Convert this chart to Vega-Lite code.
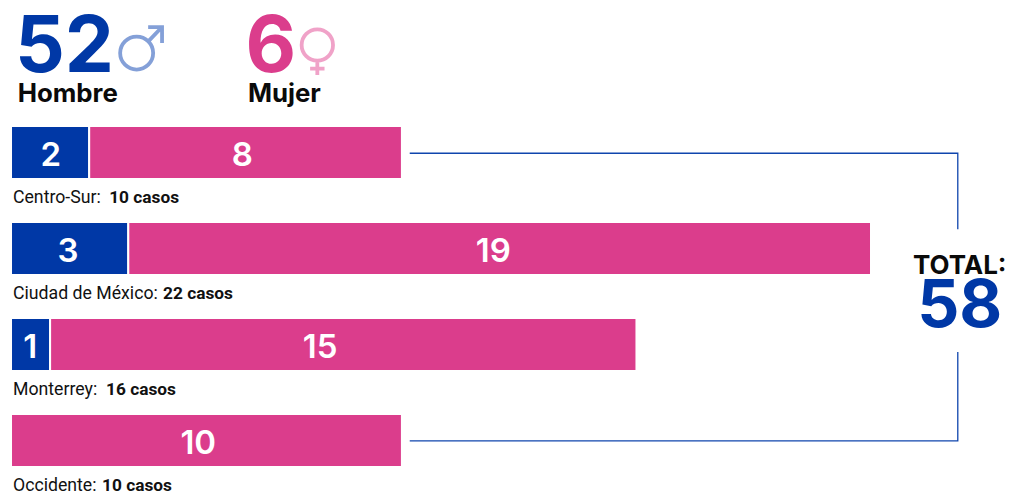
{
"$schema":"https://vega.github.io/schema/vega-lite/v6.json",
"width":1009,"height":492,"padding":0,
"autosize":"none",
"background":"white",
"config":{"view":{"stroke":null}},
"datasets":{
"casos":[
{"region":"Centro-Sur","fila":0,"sexo":"Hombre","casos":2,"inicio":0,"fin":2,"pos":1.02},
{"region":"Centro-Sur","fila":0,"sexo":"Mujer","casos":8,"inicio":2,"fin":10,"pos":5.92},
{"region":"Ciudad de México","fila":1,"sexo":"Hombre","casos":3,"inicio":0,"fin":3,"pos":1.46},
{"region":"Ciudad de México","fila":1,"sexo":"Mujer","casos":19,"inicio":3,"fin":22,"pos":12.34},
{"region":"Monterrey","fila":2,"sexo":"Hombre","casos":1,"inicio":0,"fin":1,"pos":0.49},
{"region":"Monterrey","fila":2,"sexo":"Mujer","casos":15,"inicio":1,"fin":16,"pos":7.91},
{"region":"Occidente","fila":3,"sexo":"Mujer","casos":10,"inicio":0,"fin":10,"pos":4.79}],
"regiones":[
{"nombre":"Centro-Sur:","total":"10 casos","fila":0,"pos":0.05,"posTotal":2.51},
{"nombre":"Ciudad de México:","total":"22 casos","fila":1,"pos":0.05,"posTotal":3.89},
{"nombre":"Monterrey:","total":"16 casos","fila":2,"pos":0.05,"posTotal":2.43},
{"nombre":"Occidente:","total":"10 casos","fila":3,"pos":0.05,"posTotal":2.33}],
"conector":[
{"tramo":"a","paso":1,"x":10.2,"fila":0.008},
{"tramo":"a","paso":2,"x":24.22,"fila":0.008},
{"tramo":"a","paso":3,"x":24.22,"fila":0.80},
{"tramo":"b","paso":1,"x":24.22,"fila":2.078},
{"tramo":"b","paso":2,"x":24.22,"fila":3.003},
{"tramo":"b","paso":3,"x":10.2,"fila":3.003}],
"sexos":[
{"sexo":"Hombre","total":52,"posNum":0.1,"posTxt":0.17,"posSim":3.214,"filaSim":-1.036},
{"sexo":"Mujer","total":6,"posNum":6.0,"posTxt":6.06,"posSim":7.836,"filaSim":-1.12}]
},
"resolve":{"scale":{"y":"independent"}},
"layer":[
{"data":{"name":"casos"},
 "mark":{"type":"bar","stroke":"white","strokeWidth":2},
 "encoding":{
  "x":{"field":"inicio","type":"quantitative","scale":{"domain":[-0.2817,25.53],"nice":false,"zero":false},"axis":null},
  "x2":{"field":"fin"},
  "y":{"field":"region","type":"nominal","sort":null,"axis":null,"scale":{"type":"band","paddingInner":0.448,"paddingOuter":0.786,"align":0.834}},
  "color":{"field":"sexo","type":"nominal","legend":null,"scale":{"domain":["Hombre","Mujer"],"range":["#0038a6","#db3d8c"]}}}},
{"data":{"name":"casos"},
 "mark":{"type":"text","font":"Inter","fontWeight":600,"fontSize":33,"color":"white","baseline":"middle","dy":4},
 "encoding":{
  "x":{"field":"pos","type":"quantitative","scale":{"domain":[-0.2817,25.53],"nice":false,"zero":false},"axis":null},
  "y":{"field":"fila","type":"quantitative","axis":null,"scale":{"domain":[3.5365,-1.5885],"nice":false,"zero":false}},
  "text":{"field":"casos"}}},
{"data":{"name":"regiones"},
 "mark":{"type":"text","font":"Roboto","fontSize":17.7,"color":"#111111","align":"left","baseline":"middle","dy":45.5},
 "encoding":{
  "x":{"field":"pos","type":"quantitative","scale":{"domain":[-0.2817,25.53],"nice":false,"zero":false},"axis":null},
  "y":{"field":"fila","type":"quantitative","axis":null,"scale":{"domain":[3.5365,-1.5885],"nice":false,"zero":false}},
  "text":{"field":"nombre"}}},
{"data":{"name":"regiones"},
 "mark":{"type":"text","font":"Roboto","fontWeight":"bold","fontSize":17.3,"color":"#111111","align":"left","baseline":"middle","dy":45.5},
 "encoding":{
  "x":{"field":"posTotal","type":"quantitative","scale":{"domain":[-0.2817,25.53],"nice":false,"zero":false},"axis":null},
  "y":{"field":"fila","type":"quantitative","axis":null,"scale":{"domain":[3.5365,-1.5885],"nice":false,"zero":false}},
  "text":{"field":"total"}}},
{"data":{"name":"conector"},
 "mark":{"type":"line","color":"#0f45ad","strokeWidth":1.3,"interpolate":"linear"},
 "encoding":{
  "x":{"field":"x","type":"quantitative","scale":{"domain":[-0.2817,25.53],"nice":false,"zero":false},"axis":null},
  "y":{"field":"fila","type":"quantitative","axis":null,"scale":{"domain":[3.5365,-1.5885],"nice":false,"zero":false}},
  "detail":{"field":"tramo"},
  "order":{"field":"paso","type":"quantitative"}}},
{"data":{"name":"sexos"},
 "mark":{"type":"text","font":"Inter","fontWeight":700,"fontSize":78,"align":"left","baseline":"alphabetic","dy":-80.5},
 "encoding":{
  "x":{"field":"posNum","type":"quantitative","scale":{"domain":[-0.2817,25.53],"nice":false,"zero":false},"axis":null},
  "y":{"datum":0,"type":"quantitative","axis":null,"scale":{"domain":[3.5365,-1.5885],"nice":false,"zero":false}},
  "color":{"field":"sexo","type":"nominal","legend":null,"scale":{"domain":["Hombre","Mujer"],"range":["#0038a6","#db3d8c"]}},
  "text":{"field":"total"}}},
{"data":{"name":"sexos"},
 "mark":{"type":"text","font":"Inter","fontWeight":700,"fontSize":25.8,"color":"#0a0a0a","align":"left","baseline":"alphabetic","dy":-50.5},
 "encoding":{
  "x":{"field":"posTxt","type":"quantitative","scale":{"domain":[-0.2817,25.53],"nice":false,"zero":false},"axis":null},
  "y":{"datum":0,"type":"quantitative","axis":null,"scale":{"domain":[3.5365,-1.5885],"nice":false,"zero":false}},
  "text":{"field":"sexo"}}},
{"data":{"name":"sexos"},"transform":[{"filter":"datum.sexo==='Hombre'"}],
 "mark":{"type":"point","filled":false,"size":1600,"stroke":"#84a0d8","strokeWidth":3.8,"opacity":1,
  "shape":"M0.825,0 A0.825,0.825 0 1 1 -0.825,0 A0.825,0.825 0 1 1 0.825,0 Z M0.583,-0.583 L1.27,-1.3 M0.575,-1.3 L1.27,-1.3 L1.27,-0.5"},
 "encoding":{
  "x":{"field":"posSim","type":"quantitative","scale":{"domain":[-0.2817,25.53],"nice":false,"zero":false},"axis":null},
  "y":{"field":"filaSim","type":"quantitative","axis":null,"scale":{"domain":[3.5365,-1.5885],"nice":false,"zero":false}}}},
{"data":{"name":"sexos"},"transform":[{"filter":"datum.sexo==='Mujer'"}],
 "mark":{"type":"point","filled":false,"size":1600,"stroke":"#f0a2c8","strokeWidth":3.8,"opacity":1,
  "shape":"M0.785,0 A0.785,0.785 0 1 1 -0.785,0 A0.785,0.785 0 1 1 0.785,0 Z M0,0.785 L0,1.5 M-0.36,1.18 L0.36,1.18"},
 "encoding":{
  "x":{"field":"posSim","type":"quantitative","scale":{"domain":[-0.2817,25.53],"nice":false,"zero":false},"axis":null},
  "y":{"field":"filaSim","type":"quantitative","axis":null,"scale":{"domain":[3.5365,-1.5885],"nice":false,"zero":false}}}},
{"data":{"values":[{"rotulo":"TOTAL:","pos":24.27,"fila":1.266}]},
 "mark":{"type":"text","font":"Inter","fontWeight":700,"fontSize":26,"color":"#0a0a0a","align":"center","baseline":"alphabetic"},
 "encoding":{
  "x":{"field":"pos","type":"quantitative","scale":{"domain":[-0.2817,25.53],"nice":false,"zero":false},"axis":null},
  "y":{"field":"fila","type":"quantitative","axis":null,"scale":{"domain":[3.5365,-1.5885],"nice":false,"zero":false}},
  "text":{"field":"rotulo"}}},
{"data":{"values":[{"total":58,"pos":24.27,"fila":1.818}]},
 "mark":{"type":"text","font":"Inter","fontWeight":700,"fontSize":66,"color":"#0038a6","align":"center","baseline":"alphabetic"},
 "encoding":{
  "x":{"field":"pos","type":"quantitative","scale":{"domain":[-0.2817,25.53],"nice":false,"zero":false},"axis":null},
  "y":{"field":"fila","type":"quantitative","axis":null,"scale":{"domain":[3.5365,-1.5885],"nice":false,"zero":false}},
  "text":{"field":"total"}}}
]
}
